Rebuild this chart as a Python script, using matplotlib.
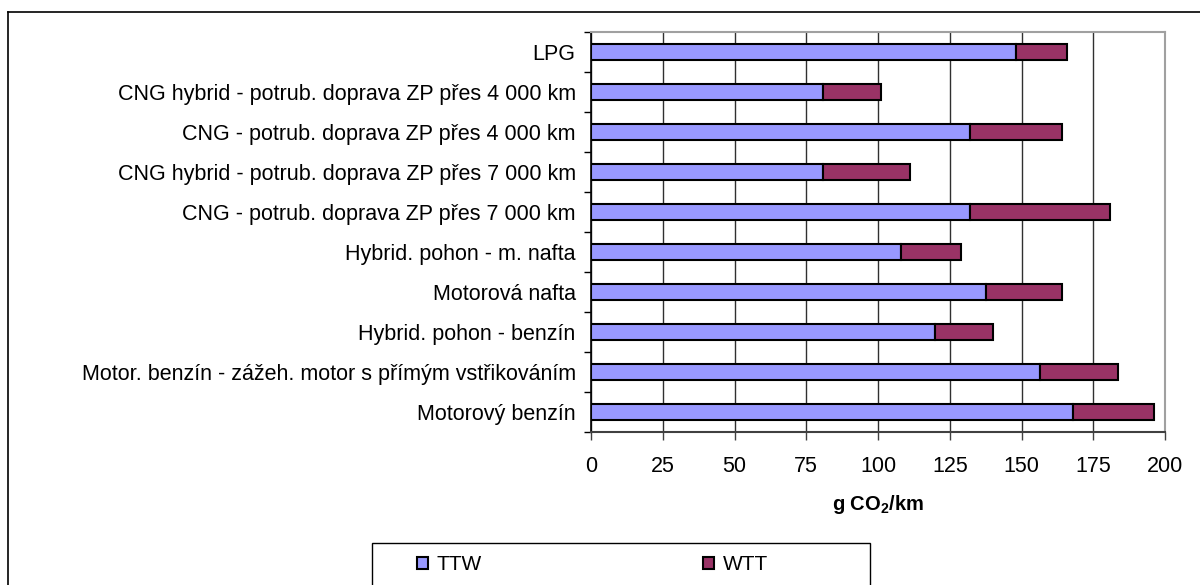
import numpy as np
import matplotlib.pyplot as plt
from matplotlib.patches import Rectangle
from matplotlib.lines import Line2D

plt.rcParams['font.family'] = ['Liberation Sans', 'DejaVu Sans']
plt.rcParams['mathtext.fontset'] = 'custom'
plt.rcParams['mathtext.rm'] = 'Liberation Sans'
plt.rcParams['mathtext.bf'] = 'Liberation Sans:bold'

# Vehicle / fuel pathways, listed top to bottom
categories = [
    "LPG",
    "CNG hybrid - potrub. doprava ZP přes 4 000 km",
    "CNG - potrub. doprava ZP přes 4 000 km",
    "CNG hybrid - potrub. doprava ZP přes 7 000 km",
    "CNG - potrub. doprava ZP přes 7 000 km",
    "Hybrid. pohon - m. nafta",
    "Motorová nafta",
    "Hybrid. pohon - benzín",
    "Motor. benzín - zážeh. motor s přímým vstřikováním",
    "Motorový benzín",
]
ttw = [148, 81, 132, 81, 132, 108, 137.5, 120, 156.5, 168]
wtt = [18, 20, 32, 30, 49, 21, 26.5, 20, 27, 28]
x_ticks = [0, 25, 50, 75, 100, 125, 150, 175, 200]

c_ttw = '#9999FF'
c_wtt = '#993366'

fig = plt.figure(figsize=(12, 5.85), dpi=100)
ax = fig.add_axes([591 / 1200, 1 - 432 / 585, (1165 - 591) / 1200, 400 / 585])

y = np.arange(len(categories))
ax.barh(y, ttw, height=0.41, color=c_ttw, edgecolor='black', linewidth=1.5, zorder=3)
ax.barh(y, wtt, left=ttw, height=0.41, color=c_wtt, edgecolor='black', linewidth=1.5, zorder=3)

ax.set_xlim(0, 200)
ax.set_ylim(len(categories) - 0.5, -0.5)
ax.set_xticks(x_ticks)
ax.set_xticklabels([str(v) for v in x_ticks], fontsize=15.5)
ax.tick_params(axis='x', direction='out', length=6, width=1, color='#404040', pad=11)
ax.xaxis.grid(True, color='#303030', linewidth=1, zorder=0)

ax.set_yticks(y)
ax.set_yticklabels(categories, fontsize=15.5)
ax.tick_params(axis='y', length=0, pad=11)
ax.set_yticks(np.arange(-0.5, len(categories)), minor=True)
ax.tick_params(axis='y', which='minor', direction='out', length=5, width=1, color='black')

ax.spines['left'].set_color('black')
ax.spines['left'].set_linewidth(1.2)
ax.spines['bottom'].set_color('#404040')
ax.spines['bottom'].set_linewidth(1.5)
for s in ('top', 'right'):
    ax.spines[s].set_color('#a0a0a0')
    ax.spines[s].set_linewidth(1.5)

ax.set_xlabel(r'g CO$_{\mathbf{2}}$/km', fontsize=14.5, fontweight='bold', labelpad=12)

# outer chart border (left and top edges visible)
fig.add_artist(Line2D([8 / 1200, 8 / 1200], [0, 1 - 12 / 585], transform=fig.transFigure,
                      color='black', linewidth=1.2))
fig.add_artist(Line2D([8 / 1200, 1], [1 - 12 / 585, 1 - 12 / 585], transform=fig.transFigure,
                      color='black', linewidth=1.2))

# legend box running off the bottom edge
fig.add_artist(Rectangle((372 / 1200, -0.05), (870 - 372) / 1200, 0.05 + (585 - 543) / 585,
                         transform=fig.transFigure, facecolor='white', edgecolor='black',
                         linewidth=1.0))
handles = [Rectangle((0, 0), 1, 1, facecolor=c_ttw, edgecolor='black', linewidth=1.5),
           Rectangle((0, 0), 1, 1, facecolor=c_wtt, edgecolor='black', linewidth=1.5)]
fig.legend(handles, ['TTW', 'WTT'], loc='center left', bbox_to_anchor=(398 / 1200, 1 - 565 / 585),
           ncol=2, frameon=False, fontsize=15, handlelength=0.55, handleheight=0.55,
           handletextpad=0.4, columnspacing=10.6)

fig.savefig('out.png', dpi=100)
